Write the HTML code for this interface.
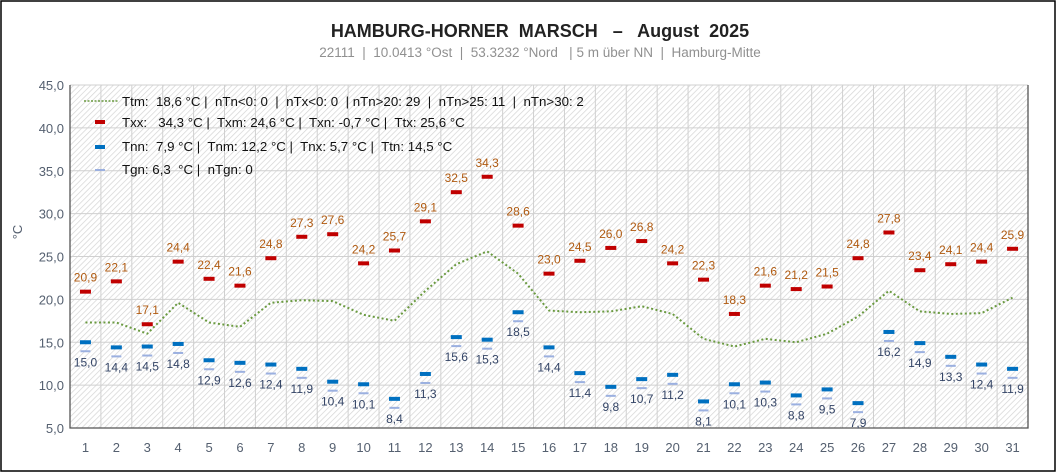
<!DOCTYPE html>
<html><head><meta charset="utf-8"><style>
body{margin:0;background:#fff}
svg{display:block;font-family:"Liberation Sans",sans-serif}
</style></head><body>
<svg id="s" width="1059" height="474" xmlns="http://www.w3.org/2000/svg">
<defs>
<pattern id="h" width="4" height="4" patternUnits="userSpaceOnUse" patternTransform="rotate(45)">
<rect width="4" height="4" fill="#fff"/><line x1="0" y1="0" x2="0" y2="4" stroke="#d4d4d4" stroke-width="1.4"/>
</pattern>
</defs>
<rect x="1" y="1" width="1054" height="470" fill="#fff" stroke="#000" stroke-width="1.5"/>
<text x="540" y="37" text-anchor="middle" font-size="18" font-weight="bold" fill="#222" xml:space="preserve">HAMBURG-HORNER  MARSCH   –   August  2025</text>
<text x="540" y="57" text-anchor="middle" font-size="13.5" fill="#909090" xml:space="preserve">22111  |  10.0413 °Ost  |  53.3232 °Nord   | 5 m über NN  |  Hamburg-Mitte</text>
<rect x="70" y="85" width="958" height="343" fill="url(#h)"/>
<g id="g"></g>
</svg>
<script>
const g=document.getElementById('g');let h='';
const L=70,R=1028,T=85,B=428,cw=(R-L)/31;
const Y=v=>B-(v-5)*(B-T)/40, X=i=>L+cw*(i+0.5);
for(let v=5;v<=45;v+=5){const y=Y(v);if(v>5)h+=`<line x1="${L}" y1="${y}" x2="${R}" y2="${y}" stroke="#d0d0d0"/>`;
h+=`<text x="64" y="${y+5}" text-anchor="end" font-size="13" fill="#556070">${v.toFixed(1).replace('.',',')}</text>`;}
for(let i=1;i<=31;i++){const x=L+cw*i;if(i<31)h+=`<line x1="${x}" y1="${T}" x2="${x}" y2="${B}" stroke="#d0d0d0"/>`;
h+=`<text x="${X(i-1)}" y="452" text-anchor="middle" font-size="13" fill="#556070">${i}</text>`;}
h+=`<polyline points="${R},${T} ${R},${B} ${L},${B} ${L},${T}" fill="none" stroke="#555" stroke-width="1.3"/>`;
h+=`<text transform="translate(22,232) rotate(-90)" text-anchor="middle" font-size="13" fill="#556070">°C</text>`;
const tn=[15.0,14.4,14.5,14.8,12.9,12.6,12.4,11.9,10.4,10.1,8.4,11.3,15.6,15.3,18.5,14.4,11.4,9.8,10.7,11.2,8.1,10.1,10.3,8.8,9.5,7.9,16.2,14.9,13.3,12.4,11.9];
const tx=[20.9,22.1,17.1,24.4,22.4,21.6,24.8,27.3,27.6,24.2,25.7,29.1,32.5,34.3,28.6,23.0,24.5,26.0,26.8,24.2,22.3,18.3,21.6,21.2,21.5,24.8,27.8,23.4,24.1,24.4,25.9];
const tm=[17.3,17.3,16.0,19.6,17.3,16.8,19.6,19.9,19.8,18.2,17.5,21.0,24.1,25.6,23.0,18.7,18.5,18.6,19.2,18.3,15.4,14.5,15.4,15.0,16.0,18.0,21.0,18.6,18.3,18.4,20.2];
let p='';for(let i=0;i<31;i++){p+=`${X(i)},${Y(tm[i])} `;}
h+=`<polyline points="${p}" fill="none" stroke="#6a9a40" stroke-width="2" stroke-dasharray="2,2.5" stroke-linejoin="round"/>`;
const f=v=>v.toFixed(1).replace('.',',');
for(let i=0;i<31;i++){const x=X(i);
h+=`<rect x="${x-5}" y="${Y(tn[i])+8}" width="10" height="2" fill="#9bb0e0"/>`;
h+=`<rect x="${x-5.5}" y="${Y(tx[i])-2}" width="11" height="4" fill="#c00000"/>`;
h+=`<rect x="${x-5.5}" y="${Y(tn[i])-2}" width="11" height="4" fill="#0070c0"/>`;
h+=`<text x="${x}" y="${Y(tx[i])-10}" text-anchor="middle" font-size="12" fill="#b05a10">${f(tx[i])}</text>`;
h+=`<text x="${x}" y="${Y(tn[i])+24}" text-anchor="middle" font-size="12" fill="#334466">${f(tn[i])}</text>`;}
h+=`<line x1="84" y1="101" x2="118" y2="101" stroke="#6a9a40" stroke-width="1.6" stroke-dasharray="2,1.5"/>`;
h+=`<rect x="95" y="120" width="10" height="4" fill="#c00000"/><rect x="95" y="145" width="10" height="4" fill="#0070c0"/><rect x="95" y="169" width="10" height="2" fill="#9bb0e0"/>`;
const lg=[["Ttm:  18,6 °C |  nTn<0: 0  |  nTx<0: 0  | nTn>20: 29  |  nTn>25: 11  |  nTn>30: 2",106],["Txx:   34,3 °C |  Txm: 24,6 °C |  Txn: -0,7 °C |  Ttx: 25,6 °C",127],["Tnn:  7,9 °C |  Tnm: 12,2 °C |  Tnx: 5,7 °C |  Ttn: 14,5 °C",151],["Tgn: 6,3  °C |  nTgn: 0",174]];
for(const[t,y]of lg)h+=`<text x="122" y="${y}" font-size="13.3" fill="#111" xml:space="preserve">${t}</text>`;
g.innerHTML=h;
</script>
</body></html>
